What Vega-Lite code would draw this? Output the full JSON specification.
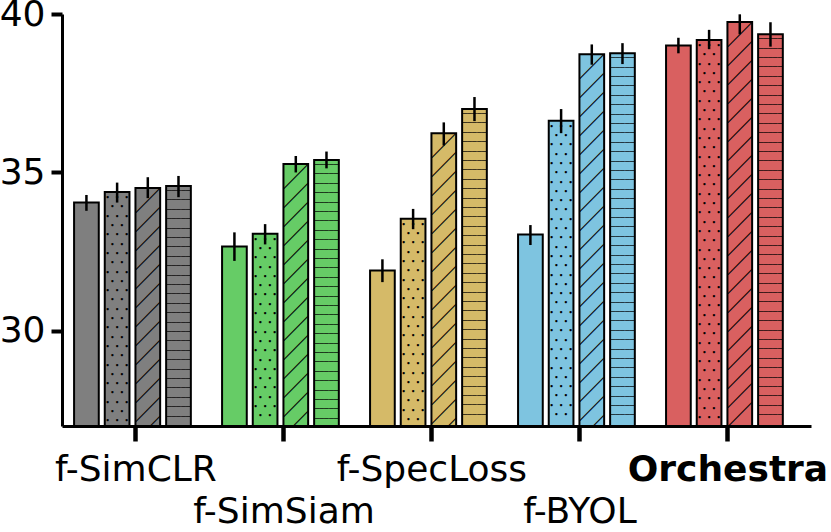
{
  "$schema": "https://vega.github.io/schema/vega-lite/v6.json",
  "width": 749,
  "height": 412,
  "autosize": {"type": "none"},
  "padding": {"left": 62, "top": 14, "right": 20, "bottom": 106},
  "config": {
    "font": "DejaVu Sans",
    "view": {"stroke": null},
    "axis": {"grid": false, "title": null, "domainColor": "black", "tickColor": "black", "labelColor": "black", "labelFont": "DejaVu Sans", "labelFontSize": 36, "labelLimit": 0}
  },
  "data": {
    "values": [
      {"method": "f-SimCLR", "variant": "solid", "value": 34.05, "lo": 33.79, "hi": 34.29},
      {"method": "f-SimCLR", "variant": "dots", "value": 34.38, "lo": 34.05, "hi": 34.68},
      {"method": "f-SimCLR", "variant": "diag", "value": 34.51, "lo": 34.19, "hi": 34.85},
      {"method": "f-SimCLR", "variant": "hlines", "value": 34.57, "lo": 34.22, "hi": 34.89},
      {"method": "f-SimSiam", "variant": "solid", "value": 32.66, "lo": 32.21, "hi": 33.11},
      {"method": "f-SimSiam", "variant": "dots", "value": 33.07, "lo": 32.73, "hi": 33.37},
      {"method": "f-SimSiam", "variant": "diag", "value": 35.27, "lo": 35.0, "hi": 35.52},
      {"method": "f-SimSiam", "variant": "hlines", "value": 35.39, "lo": 35.13, "hi": 35.66},
      {"method": "f-SpecLoss", "variant": "solid", "value": 31.91, "lo": 31.54, "hi": 32.26},
      {"method": "f-SpecLoss", "variant": "dots", "value": 33.54, "lo": 33.21, "hi": 33.85},
      {"method": "f-SpecLoss", "variant": "diag", "value": 36.24, "lo": 35.85, "hi": 36.58},
      {"method": "f-SpecLoss", "variant": "hlines", "value": 37.0, "lo": 36.62, "hi": 37.38},
      {"method": "f-BYOL", "variant": "solid", "value": 33.04, "lo": 32.71, "hi": 33.34},
      {"method": "f-BYOL", "variant": "dots", "value": 36.63, "lo": 36.24, "hi": 37.0},
      {"method": "f-BYOL", "variant": "diag", "value": 38.73, "lo": 38.4, "hi": 39.04},
      {"method": "f-BYOL", "variant": "hlines", "value": 38.76, "lo": 38.42, "hi": 39.08},
      {"method": "Orchestra", "variant": "solid", "value": 39.01, "lo": 38.76, "hi": 39.25},
      {"method": "Orchestra", "variant": "dots", "value": 39.18, "lo": 38.89, "hi": 39.5},
      {"method": "Orchestra", "variant": "diag", "value": 39.75, "lo": 39.36, "hi": 39.99},
      {"method": "Orchestra", "variant": "hlines", "value": 39.36, "lo": 38.97, "hi": 39.74}
    ]
  },
  "encoding": {
    "x": {
      "field": "method",
      "type": "nominal",
      "sort": ["f-SimCLR", "f-SimSiam", "f-SpecLoss", "f-BYOL", "Orchestra"],
      "scale": {"paddingInner": 0.211, "paddingOuter": 0.136, "align": 0.3},
      "axis": {
        "labelAngle": 0,
        "labelExpr": "indexof(['f-SimSiam','f-BYOL'], datum.value) >= 0 ? ['', datum.label] : datum.label",
        "labelFontWeight": {"condition": {"test": "datum.value == 'Orchestra'", "value": "bold"}, "value": "normal"},
        "labelLineHeight": 42,
        "labelOverlap": false,
        "labelBound": false,
        "labelFlush": false,
        "labelPadding": 11,
        "tickSize": 15,
        "tickWidth": 4.5,
        "tickOffset": 3,
        "domainWidth": 3
      }
    },
    "xOffset": {
      "field": "variant",
      "type": "nominal",
      "sort": ["solid", "dots", "diag", "hlines"],
      "scale": {"paddingInner": 0.195, "paddingOuter": 0}
    },
    "y": {
      "field": "value",
      "type": "quantitative",
      "scale": {"domain": [27, 40], "nice": false, "zero": false},
      "axis": {"values": [30, 35, 40], "tickSize": 11, "tickWidth": 4, "domainWidth": 3, "labelPadding": 6}
    }
  },
  "layer": [
    {
      "mark": {"type": "bar"},
      "encoding": {
        "y2": {"datum": 27},
        "color": {
          "field": "method",
          "type": "nominal",
          "scale": {"domain": ["f-SimCLR", "f-SimSiam", "f-SpecLoss", "f-BYOL", "Orchestra"], "range": ["#7f7f7f", "#66cc66", "#d5ba68", "#7ec4e0", "#d96060"]},
          "legend": null
        }
      }
    },
    {
      "transform": [{"filter": "datum.variant == 'dots'"}],
      "mark": {"type": "text", "font": "DejaVu Sans Mono", "fontSize": 7.9, "lineHeight": 9.3, "baseline": "top", "align": "center", "dy": 2, "clip": true, "color": "black"},
      "encoding": {
        "text": {
          "condition": [
            {"test": "datum.method == 'f-SimCLR'", "value": [
              "•\u00a0•\u00a0•", "\u00a0•\u00a0•\u00a0", "•\u00a0•\u00a0•", "\u00a0•\u00a0•\u00a0", "•\u00a0•\u00a0•", "\u00a0•\u00a0•\u00a0",
              "•\u00a0•\u00a0•", "\u00a0•\u00a0•\u00a0", "•\u00a0•\u00a0•", "\u00a0•\u00a0•\u00a0", "•\u00a0•\u00a0•", "\u00a0•\u00a0•\u00a0",
              "•\u00a0•\u00a0•", "\u00a0•\u00a0•\u00a0", "•\u00a0•\u00a0•", "\u00a0•\u00a0•\u00a0", "•\u00a0•\u00a0•", "\u00a0•\u00a0•\u00a0",
              "•\u00a0•\u00a0•", "\u00a0•\u00a0•\u00a0", "•\u00a0•\u00a0•", "\u00a0•\u00a0•\u00a0", "•\u00a0•\u00a0•", "\u00a0•\u00a0•\u00a0",
              "•\u00a0•\u00a0•"
            ]},
            {"test": "datum.method == 'f-SimSiam'", "value": [
              "•\u00a0•\u00a0•", "\u00a0•\u00a0•\u00a0", "•\u00a0•\u00a0•", "\u00a0•\u00a0•\u00a0", "•\u00a0•\u00a0•", "\u00a0•\u00a0•\u00a0",
              "•\u00a0•\u00a0•", "\u00a0•\u00a0•\u00a0", "•\u00a0•\u00a0•", "\u00a0•\u00a0•\u00a0", "•\u00a0•\u00a0•", "\u00a0•\u00a0•\u00a0",
              "•\u00a0•\u00a0•", "\u00a0•\u00a0•\u00a0", "•\u00a0•\u00a0•", "\u00a0•\u00a0•\u00a0", "•\u00a0•\u00a0•", "\u00a0•\u00a0•\u00a0",
              "•\u00a0•\u00a0•", "\u00a0•\u00a0•\u00a0"
            ]},
            {"test": "datum.method == 'f-SpecLoss'", "value": [
              "•\u00a0•\u00a0•", "\u00a0•\u00a0•\u00a0", "•\u00a0•\u00a0•", "\u00a0•\u00a0•\u00a0", "•\u00a0•\u00a0•", "\u00a0•\u00a0•\u00a0",
              "•\u00a0•\u00a0•", "\u00a0•\u00a0•\u00a0", "•\u00a0•\u00a0•", "\u00a0•\u00a0•\u00a0", "•\u00a0•\u00a0•", "\u00a0•\u00a0•\u00a0",
              "•\u00a0•\u00a0•", "\u00a0•\u00a0•\u00a0", "•\u00a0•\u00a0•", "\u00a0•\u00a0•\u00a0", "•\u00a0•\u00a0•", "\u00a0•\u00a0•\u00a0",
              "•\u00a0•\u00a0•", "\u00a0•\u00a0•\u00a0", "•\u00a0•\u00a0•", "\u00a0•\u00a0•\u00a0"
            ]},
            {"test": "datum.method == 'f-BYOL'", "value": [
              "•\u00a0•\u00a0•", "\u00a0•\u00a0•\u00a0", "•\u00a0•\u00a0•", "\u00a0•\u00a0•\u00a0", "•\u00a0•\u00a0•", "\u00a0•\u00a0•\u00a0",
              "•\u00a0•\u00a0•", "\u00a0•\u00a0•\u00a0", "•\u00a0•\u00a0•", "\u00a0•\u00a0•\u00a0", "•\u00a0•\u00a0•", "\u00a0•\u00a0•\u00a0",
              "•\u00a0•\u00a0•", "\u00a0•\u00a0•\u00a0", "•\u00a0•\u00a0•", "\u00a0•\u00a0•\u00a0", "•\u00a0•\u00a0•", "\u00a0•\u00a0•\u00a0",
              "•\u00a0•\u00a0•", "\u00a0•\u00a0•\u00a0", "•\u00a0•\u00a0•", "\u00a0•\u00a0•\u00a0", "•\u00a0•\u00a0•", "\u00a0•\u00a0•\u00a0",
              "•\u00a0•\u00a0•", "\u00a0•\u00a0•\u00a0", "•\u00a0•\u00a0•", "\u00a0•\u00a0•\u00a0", "•\u00a0•\u00a0•", "\u00a0•\u00a0•\u00a0",
              "•\u00a0•\u00a0•", "\u00a0•\u00a0•\u00a0"
            ]}
          ],
          "value": [
            "•\u00a0•\u00a0•", "\u00a0•\u00a0•\u00a0", "•\u00a0•\u00a0•", "\u00a0•\u00a0•\u00a0", "•\u00a0•\u00a0•", "\u00a0•\u00a0•\u00a0",
            "•\u00a0•\u00a0•", "\u00a0•\u00a0•\u00a0", "•\u00a0•\u00a0•", "\u00a0•\u00a0•\u00a0", "•\u00a0•\u00a0•", "\u00a0•\u00a0•\u00a0",
            "•\u00a0•\u00a0•", "\u00a0•\u00a0•\u00a0", "•\u00a0•\u00a0•", "\u00a0•\u00a0•\u00a0", "•\u00a0•\u00a0•", "\u00a0•\u00a0•\u00a0",
            "•\u00a0•\u00a0•", "\u00a0•\u00a0•\u00a0", "•\u00a0•\u00a0•", "\u00a0•\u00a0•\u00a0", "•\u00a0•\u00a0•", "\u00a0•\u00a0•\u00a0",
            "•\u00a0•\u00a0•", "\u00a0•\u00a0•\u00a0", "•\u00a0•\u00a0•", "\u00a0•\u00a0•\u00a0", "•\u00a0•\u00a0•", "\u00a0•\u00a0•\u00a0",
            "•\u00a0•\u00a0•", "\u00a0•\u00a0•\u00a0", "•\u00a0•\u00a0•", "\u00a0•\u00a0•\u00a0", "•\u00a0•\u00a0•", "\u00a0•\u00a0•\u00a0",
            "•\u00a0•\u00a0•", "\u00a0•\u00a0•\u00a0", "•\u00a0•\u00a0•", "\u00a0•\u00a0•\u00a0", "•\u00a0•\u00a0•"
          ]
        }
      }
    },
    {
      "transform": [{"filter": "datum.variant == 'diag'"}],
      "mark": {"type": "text", "font": "Noto Sans CJK JP", "fontSize": 24.7, "lineHeight": 19, "baseline": "top", "align": "center", "dy": 2, "clip": true, "color": "black"},
      "encoding": {
        "text": {
          "condition": [
            {"test": "datum.method == 'f-SimCLR'", "value": ["╱", "╱", "╱", "╱", "╱", "╱", "╱", "╱", "╱", "╱", "╱", "╱", "╱"]},
            {"test": "datum.method == 'f-SimSiam'", "value": ["╱", "╱", "╱", "╱", "╱", "╱", "╱", "╱", "╱", "╱", "╱", "╱", "╱", "╱"]},
            {"test": "datum.method == 'f-SpecLoss'", "value": ["╱", "╱", "╱", "╱", "╱", "╱", "╱", "╱", "╱", "╱", "╱", "╱", "╱", "╱", "╱", "╱"]},
            {"test": "datum.method == 'f-BYOL'", "value": ["╱", "╱", "╱", "╱", "╱", "╱", "╱", "╱", "╱", "╱", "╱", "╱", "╱", "╱", "╱", "╱", "╱", "╱", "╱", "╱"]}
          ],
          "value": ["╱", "╱", "╱", "╱", "╱", "╱", "╱", "╱", "╱", "╱", "╱", "╱", "╱", "╱", "╱", "╱", "╱", "╱", "╱", "╱", "╱"]
        }
      }
    },
    {
      "transform": [{"filter": "datum.variant == 'hlines'"}],
      "mark": {"type": "text", "font": "DejaVu Sans Mono", "fontSize": 8, "fontWeight": "bold", "lineHeight": 9.4, "baseline": "top", "align": "center", "dy": 1, "clip": true, "color": "black"},
      "encoding": {
        "text": {
          "condition": [
            {"test": "datum.method == 'f-SimCLR'", "value": [
              "─────", "─────", "─────", "─────", "─────", "─────", "─────", "─────", "─────", "─────",
              "─────", "─────", "─────", "─────", "─────", "─────", "─────", "─────", "─────", "─────",
              "─────", "─────", "─────", "─────", "─────"
            ]},
            {"test": "datum.method == 'f-SimSiam'", "value": [
              "─────", "─────", "─────", "─────", "─────", "─────", "─────", "─────", "─────", "─────",
              "─────", "─────", "─────", "─────", "─────", "─────", "─────", "─────", "─────", "─────",
              "─────", "─────", "─────", "─────", "─────", "─────", "─────", "─────"
            ]},
            {"test": "datum.method == 'f-SpecLoss'", "value": [
              "─────", "─────", "─────", "─────", "─────", "─────", "─────", "─────", "─────", "─────",
              "─────", "─────", "─────", "─────", "─────", "─────", "─────", "─────", "─────", "─────",
              "─────", "─────", "─────", "─────", "─────", "─────", "─────", "─────", "─────", "─────",
              "─────", "─────", "─────"
            ]},
            {"test": "datum.method == 'f-BYOL'", "value": [
              "─────", "─────", "─────", "─────", "─────", "─────", "─────", "─────", "─────", "─────",
              "─────", "─────", "─────", "─────", "─────", "─────", "─────", "─────", "─────", "─────",
              "─────", "─────", "─────", "─────", "─────", "─────", "─────", "─────", "─────", "─────",
              "─────", "─────", "─────", "─────", "─────", "─────", "─────", "─────", "─────"
            ]}
          ],
          "value": [
            "─────", "─────", "─────", "─────", "─────", "─────", "─────", "─────", "─────", "─────",
            "─────", "─────", "─────", "─────", "─────", "─────", "─────", "─────", "─────", "─────",
            "─────", "─────", "─────", "─────", "─────", "─────", "─────", "─────", "─────", "─────",
            "─────", "─────", "─────", "─────", "─────", "─────", "─────", "─────", "─────", "─────",
            "─────"
          ]
        }
      }
    },
    {
      "mark": {"type": "bar", "filled": false, "color": "black", "strokeWidth": 2},
      "encoding": {"y2": {"datum": 27}}
    },
    {
      "mark": {"type": "rule", "color": "black", "strokeWidth": 2.5},
      "encoding": {
        "y": {"field": "lo", "type": "quantitative"},
        "y2": {"field": "hi"}
      }
    }
  ]
}
